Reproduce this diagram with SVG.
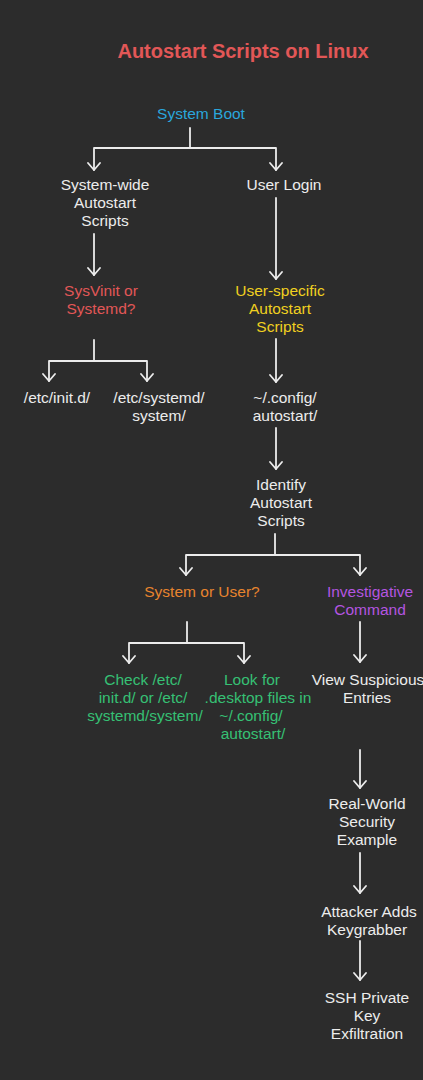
<svg xmlns="http://www.w3.org/2000/svg" width="423" height="1080" viewBox="0 0 423 1080">
<defs>
<marker id="ah" markerWidth="16" markerHeight="16" refX="8" refY="8" orient="auto" markerUnits="userSpaceOnUse">
<path d="M1,2 L8,8 L1,14" fill="none" stroke="#ececec" stroke-width="1.8" stroke-linecap="round" stroke-linejoin="round"/>
</marker>
<style>
text{font-family:"Liberation Sans","Noto Sans",sans-serif;font-size:15.5px;text-anchor:middle;fill:#ececec}
.t{font-size:20px;font-weight:bold;fill:#e25757}
.b{fill:#2aa6dc}.r{fill:#e25757}.y{fill:#f0d020}.o{fill:#e8842e}.p{fill:#b455e0}.g{fill:#36c074}
.c path{fill:none;stroke:#ececec;stroke-width:1.8;stroke-linecap:round;stroke-linejoin:round}
.c .a{marker-end:url(#ah)}
</style>
</defs>
<rect width="423" height="1080" fill="#2c2c2c"/>
<text class="t" x="243" y="58">Autostart Scripts on Linux</text>
<g class="c">
<path d="M190,128 V148"/>
<path class="a" d="M190,148 H94 V170"/>
<path class="a" d="M190,148 H276 V170"/>
<path class="a" d="M94,234 V275"/>
<path class="a" d="M276,198 V279"/>
<path d="M94,340 V361"/>
<path class="a" d="M94,361 H49 V381"/>
<path class="a" d="M94,361 H147 V381"/>
<path class="a" d="M276,339 V382"/>
<path class="a" d="M276,428 V469"/>
<path d="M275,534 V555"/>
<path class="a" d="M275,555 H186 V575"/>
<path class="a" d="M275,555 H360 V575"/>
<path d="M187,622 V643"/>
<path class="a" d="M187,643 H129 V663"/>
<path class="a" d="M187,643 H244 V663"/>
<path class="a" d="M360,622 V662"/>
<path class="a" d="M360,750 V788"/>
<path class="a" d="M360,853 V893"/>
<path class="a" d="M360,941 V980"/>
</g>
<g id="n-boot"><text class="b" x="201" y="119">System Boot</text></g>
<g id="n-syswide"><text x="105" y="190">System-wide</text><text x="105" y="208">Autostart</text><text x="105" y="226">Scripts</text></g>
<g id="n-login"><text x="284" y="190">User Login</text></g>
<g id="n-sysvinit"><text class="r" x="101" y="296">SysVinit or</text><text class="r" x="101" y="314">Systemd?</text></g>
<g id="n-userspec"><text class="y" x="280" y="296">User-specific</text><text class="y" x="280" y="314">Autostart</text><text class="y" x="280" y="332">Scripts</text></g>
<g id="n-initd"><text x="57" y="403">/etc/init.d/</text></g>
<g id="n-systemd"><text x="159" y="403">/etc/systemd/</text><text x="159" y="421">system/</text></g>
<g id="n-config"><text x="285" y="403">~/.config/</text><text x="285" y="421">autostart/</text></g>
<g id="n-identify"><text x="281" y="490">Identify</text><text x="281" y="508">Autostart</text><text x="281" y="526">Scripts</text></g>
<g id="n-sysuser"><text class="o" x="202" y="597">System or User?</text></g>
<g id="n-invest"><text class="p" x="370" y="597">Investigative</text><text class="p" x="370" y="615">Command</text></g>
<g id="n-check"><text class="g" x="143" y="685">Check /etc/</text><text class="g" x="143" y="703">init.d/ or /etc/</text><text class="g" x="145" y="721">systemd/system/</text></g>
<g id="n-look"><text class="g" x="252" y="685">Look for</text><text class="g" x="258" y="703">.desktop files in</text><text class="g" x="251" y="721">~/.config/</text><text class="g" x="253" y="739">autostart/</text></g>
<g id="n-view"><text x="368" y="685">View Suspicious</text><text x="367" y="703">Entries</text></g>
<g id="n-real"><text x="367" y="809">Real-World</text><text x="367" y="827">Security</text><text x="367" y="845">Example</text></g>
<g id="n-attacker"><text x="369" y="917">Attacker Adds</text><text x="367" y="935">Keygrabber</text></g>
<g id="n-ssh"><text x="367" y="1003">SSH Private</text><text x="367" y="1021">Key</text><text x="367" y="1039">Exfiltration</text></g>
</svg>
